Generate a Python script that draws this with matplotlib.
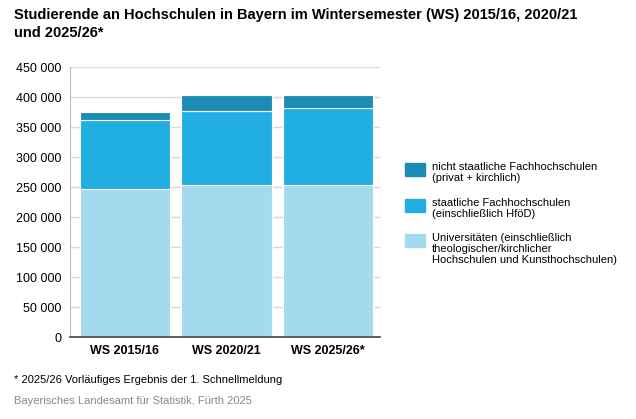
import matplotlib.pyplot as plt
from matplotlib.patches import Rectangle

semesters = ["WS 2015/16", "WS 2020/21", "WS 2025/26*"]
universitaeten = [247000, 253500, 253000]
staatliche_fh = [115000, 123500, 128000]
nichtstaatliche_fh = [13000, 26500, 22800]
yticks = list(range(0, 450001, 50000))

c_uni = "#a5d9ee"
c_fh = "#21afe2"
c_priv = "#1b8db5"

plt.rcParams["font.family"] = ["Liberation Sans", "DejaVu Sans"]
fig = plt.figure(figsize=(6.36, 4.19), dpi=100)
ax = fig.add_axes([70 / 636, (419 - 337) / 419, (380 - 70) / 636, 270 / 419])

x = range(len(semesters))
w = 0.89
ax.bar(x, universitaeten, w, color=c_uni, edgecolor="white", linewidth=0.8, zorder=2)
ax.bar(x, staatliche_fh, w, bottom=universitaeten, color=c_fh, edgecolor="white", linewidth=0.8, zorder=2)
bot = [a + b for a, b in zip(universitaeten, staatliche_fh)]
ax.bar(x, nichtstaatliche_fh, w, bottom=bot, color=c_priv, edgecolor="white", linewidth=0.8, zorder=2)

ax.set_ylim(0, 450000)
ax.set_xlim(-0.54, 2.51)
ax.set_yticks(yticks)
ax.set_yticklabels([f"{v:,}".replace(",", " ") for v in yticks], fontsize=9)
ax.set_xticks(list(x))
ax.set_xticklabels(semesters, fontsize=9, fontweight="bold")
ax.grid(axis="y", color="#d9d9d9", linewidth=1, zorder=0)
for s in ["top", "right"]:
    ax.spines[s].set_visible(False)
ax.spines["left"].set_color("#bbbbbb")
ax.spines["bottom"].set_color("#444444")
ax.spines["bottom"].set_linewidth(1.2)
ax.tick_params(length=0, pad=6)

fig.text(14 / 636, 1 - 24 / 419, "Studierende an Hochschulen in Bayern im Wintersemester (WS) 2015/16, 2020/21\nund 2025/26*",
         fontsize=10.5, fontweight="bold", va="center", linespacing=1.35)

legend = [
    (c_priv, "nicht staatliche Fachhochschulen\n(privat + kirchlich)", 163),
    (c_fh, "staatliche Fachhochschulen\n(einschließlich HföD)", 199),
    (c_uni, "Universitäten (einschließlich\ntheologischer/kirchlicher\nHochschulen und Kunsthochschulen)", 234),
]
for col, lab, yy in legend:
    fig.patches.append(Rectangle((405 / 636, 1 - (yy + 13) / 419), 20 / 636, 13 / 419,
                                 transform=fig.transFigure, color=col))
    fig.text(432 / 636, 1 - (yy - 1) / 419, lab, fontsize=8, va="top", linespacing=1.15)

fig.text(14 / 636, 1 - 380 / 419, "* 2025/26 Vorläufiges Ergebnis der 1. Schnellmeldung", fontsize=8, va="center")
fig.text(14 / 636, 1 - 401 / 419, "Bayerisches Landesamt für Statistik, Fürth 2025", fontsize=8, va="center", color="#888888")

fig.savefig("out.png", dpi=100)
